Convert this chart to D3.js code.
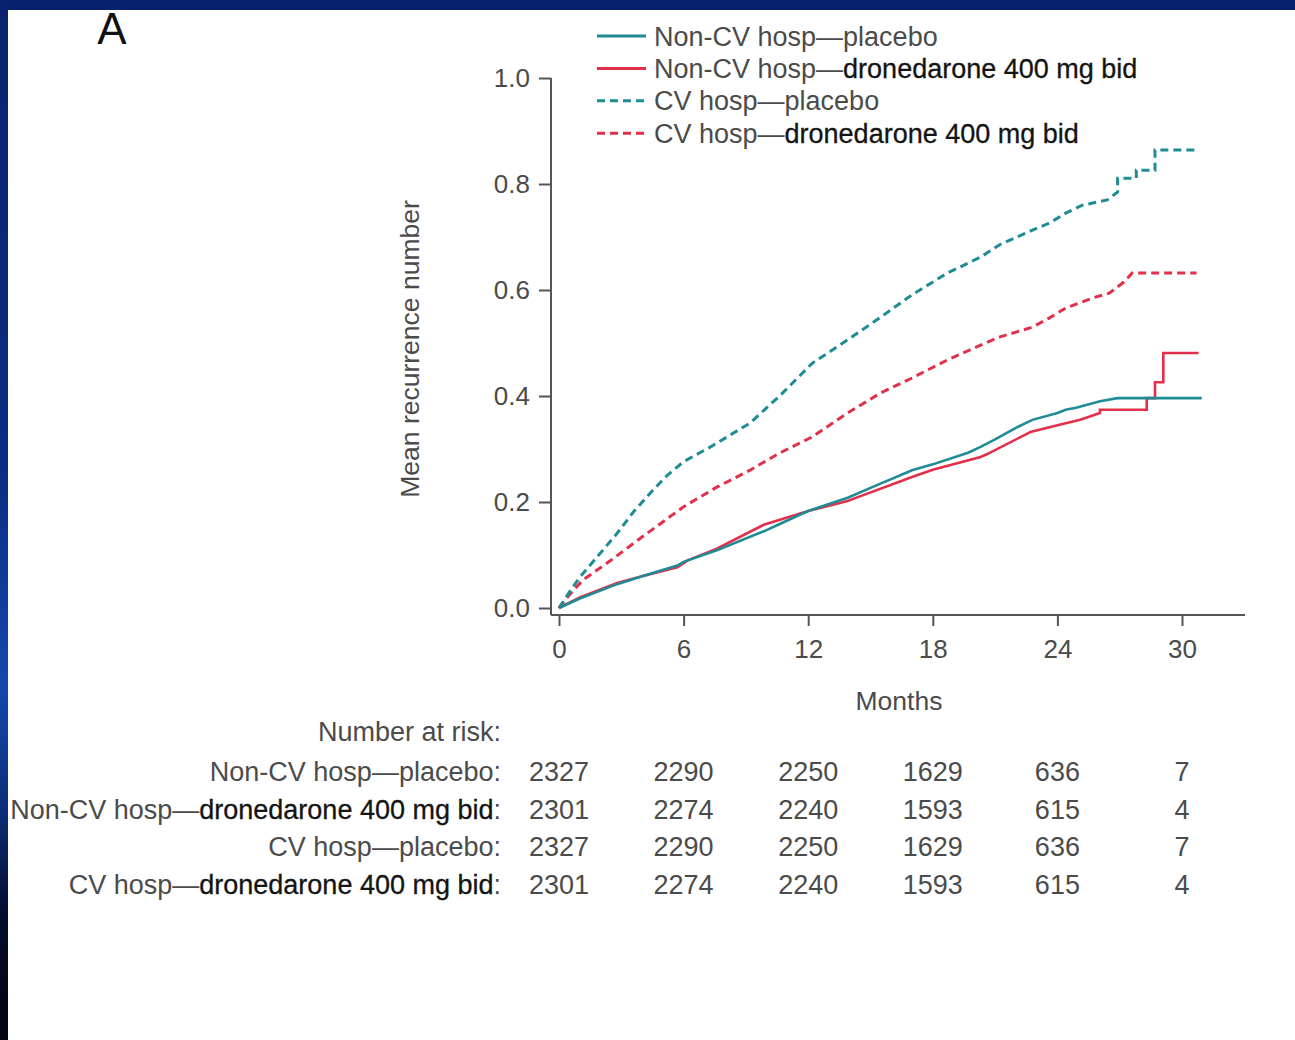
<!DOCTYPE html>
<html>
<head>
<meta charset="utf-8">
<script src="https://cdn.jsdelivr.net/npm/d3@7"></script>
<style>
  html, body { margin: 0; padding: 0; background: #071f6a; }
  svg { display: block; font-family: "Liberation Sans", Arial, sans-serif; }
</style>
</head>
<body>
<svg id="chart" width="1295" height="1040"></svg>
<script>
// months, mean recurrence number
const nonCvPlacebo = [
  [0, 0], [1, 0.018], [2.8, 0.045], [4, 0.06], [5.7, 0.08], [6, 0.087], [7.6, 0.109],
  [10, 0.147], [10.6, 0.158], [11.6, 0.176], [12, 0.183], [13.9, 0.208], [15.2, 0.23],
  [17, 0.26], [18, 0.271], [19.7, 0.293], [20.3, 0.304], [21, 0.318], [22, 0.34],
  [22.8, 0.355], [24, 0.368], [24.4, 0.374], [24.9, 0.378], [26.05, 0.39], [26.9, 0.396],
  [30.95, 0.396]
];
const nonCvDrone = [
  [0, 0], [1, 0.02], [2.8, 0.047], [4, 0.06], [5.7, 0.077], [6.2, 0.09], [7.6, 0.112],
  [9.86, 0.157], [12, 0.183], [13.9, 0.202], [14.1, 0.205], [17, 0.247], [18, 0.261],
  [20.3, 0.285], [20.6, 0.29], [22.5, 0.328], [22.7, 0.332], [24, 0.345], [25.1, 0.355],
  [26.05, 0.368], [26.05, 0.374], [28.3, 0.374], [28.3, 0.396], [28.7, 0.396],
  [28.7, 0.426], [29.1, 0.426], [29.1, 0.481], [30.8, 0.481]
];
const cvPlacebo = [
  [0, 0], [0.5, 0.03], [1, 0.058], [2, 0.104], [2.8, 0.141], [3.6, 0.182], [4.4, 0.217],
  [5.2, 0.25], [6, 0.276], [7.3, 0.304], [9.2, 0.349], [10.7, 0.403], [12.2, 0.462],
  [13.9, 0.506], [15.5, 0.549], [17, 0.591], [18.7, 0.632], [20.3, 0.662], [21.2, 0.685],
  [22.8, 0.713], [23.6, 0.726], [24.4, 0.745], [25.2, 0.76], [26.4, 0.77], [26.9, 0.785],
  [26.9, 0.811], [27.8, 0.811], [27.8, 0.826], [28.7, 0.826], [28.7, 0.864], [30.7, 0.864]
];
const cvDrone = [
  [0, 0], [0.5, 0.025], [1.16, 0.053], [2.5, 0.09], [4, 0.134], [6, 0.191], [7.6, 0.228],
  [9.2, 0.26], [10.6, 0.292], [12.2, 0.323], [13.9, 0.368], [15.5, 0.406], [17, 0.434],
  [18.7, 0.468], [20.3, 0.496], [21.2, 0.511], [22.8, 0.53], [23.6, 0.547], [24.4, 0.566],
  [25.7, 0.585], [26.5, 0.594], [27.2, 0.615], [27.6, 0.632], [30.7, 0.632]
];

const monthTicks = [0, 6, 12, 18, 24, 30];
const valueTicks = [0, 0.2, 0.4, 0.6, 0.8, 1.0];

const legendNames = [
  ["Non-CV hosp\u2014", "placebo", false],
  ["Non-CV hosp\u2014", "dronedarone 400 mg bid", true],
  ["CV hosp\u2014", "placebo", false],
  ["CV hosp\u2014", "dronedarone 400 mg bid", true]
];
const riskHeader = "Number at risk:";
const riskRows = [
  [2327, 2290, 2250, 1629, 636, 7],
  [2301, 2274, 2240, 1593, 615, 4],
  [2327, 2290, 2250, 1629, 636, 7],
  [2301, 2274, 2240, 1593, 615, 4]
];

const teal = "#1f8b95";
const red = "#e2304a";
const grey = "#4b4b4b";
const dark = "#141414";

const svg = d3.select("#chart");

// background frame
const defs = svg.append("defs");
const grad = defs.append("linearGradient").attr("id", "edge")
  .attr("x1", 0).attr("y1", 0).attr("x2", 0).attr("y2", 1);
[[0, "#0a236e"], [0.45, "#0b2c82"], [0.66, "#1448ad"], [0.78, "#0b2d78"],
 [0.88, "#040d2c"], [1, "#02050f"]].forEach(s =>
  grad.append("stop").attr("offset", s[0]).attr("stop-color", s[1]));

svg.append("rect").attr("width", 1295).attr("height", 1040).attr("fill", "#06206d");
svg.append("rect").attr("x", 0).attr("y", 0).attr("width", 8).attr("height", 1040)
  .attr("fill", "url(#edge)");
svg.append("rect").attr("x", 8).attr("y", 10).attr("width", 1287).attr("height", 1030)
  .attr("fill", "#fff");

// scales
const x = d3.scaleLinear().domain([0, 30]).range([559, 1182]);
const y = d3.scaleLinear().domain([0, 1]).range([608, 78]);

const g = svg.append("g");

// axis lines
g.append("line").attr("x1", 551).attr("x2", 551).attr("y1", y(1)).attr("y2", 615)
  .attr("stroke", "#555").attr("stroke-width", 2);
g.append("line").attr("x1", 551).attr("x2", 1245).attr("y1", 615).attr("y2", 615)
  .attr("stroke", "#555").attr("stroke-width", 2);

const yAxis = g.append("g").attr("transform", "translate(551,0)")
  .call(d3.axisLeft(y).tickValues(valueTicks).tickFormat(d3.format(".1f"))
    .tickSize(12).tickPadding(9));
const xAxis = g.append("g").attr("transform", "translate(0,615)")
  .call(d3.axisBottom(x).tickValues(monthTicks).tickSize(11).tickPadding(14));

[yAxis, xAxis].forEach(a => {
  a.select(".domain").remove();
  a.selectAll(".tick line").attr("stroke", "#555").attr("stroke-width", 2);
  a.selectAll(".tick text").attr("fill", grey).style("font-size", "26px")
    .style("font-family", "'Liberation Sans', Arial, sans-serif");
});

// axis titles
g.append("text").attr("x", 899).attr("y", 710).attr("text-anchor", "middle")
  .attr("fill", grey).style("font-size", "26.5px").text("Months");
g.append("text").attr("transform", "translate(419,349) rotate(-90)")
  .attr("text-anchor", "middle").attr("fill", grey).style("font-size", "26.5px")
  .text("Mean recurrence number");

// curves
const line = d3.line().x(d => x(d[0])).y(d => y(d[1]));
const series = [
  { data: cvDrone, color: red, dash: "8,5", w: 3 },
  { data: cvPlacebo, color: teal, dash: "8,5", w: 3 },
  { data: nonCvDrone, color: red, dash: null, w: 2.6 },
  { data: nonCvPlacebo, color: teal, dash: null, w: 2.6 }
];
series.forEach(s => {
  g.append("path").datum(s.data).attr("d", line)
    .attr("fill", "none").attr("stroke", s.color).attr("stroke-width", s.w)
    .attr("stroke-dasharray", s.dash).attr("stroke-linejoin", "miter");
});

// legend
const legendStyle = [
  { color: teal, dash: null }, { color: red, dash: null },
  { color: teal, dash: "8,5" }, { color: red, dash: "8,5" }
];
const leg = svg.append("g");
legendNames.forEach((n, i) => {
  const cy = 36 + i * 32.4;
  leg.append("line").attr("x1", 597).attr("x2", 646).attr("y1", cy).attr("y2", cy)
    .attr("stroke", legendStyle[i].color).attr("stroke-width", 3)
    .attr("stroke-dasharray", legendStyle[i].dash);
  const t = leg.append("text").attr("x", 654).attr("y", cy + 9.5)
    .style("font-size", "27px").attr("fill", grey);
  t.append("tspan").text(n[0]);
  const b = t.append("tspan").text(n[1]);
  if (n[2]) b.attr("fill", dark).attr("stroke", dark).attr("stroke-width", 0.3);
});

// panel letter
svg.append("text").attr("x", 112).attr("y", 44).attr("text-anchor", "middle")
  .attr("fill", "#111").style("font-size", "44px").text("A");

// number at risk table
const risk = svg.append("g").style("font-size", "27px");
risk.append("text").attr("x", 501).attr("y", 731 + 9.5).attr("text-anchor", "end")
  .attr("fill", grey).text(riskHeader);
const rowY = [771, 809, 846, 884];
riskRows.forEach((row, i) => {
  const n = legendNames[i];
  const t = risk.append("text").attr("x", 501).attr("y", rowY[i] + 9.5)
    .attr("text-anchor", "end").attr("fill", grey);
  t.append("tspan").text(n[0]);
  const b = t.append("tspan").text(n[1]);
  if (n[2]) b.attr("fill", dark).attr("stroke", dark).attr("stroke-width", 0.3);
  t.append("tspan").text(":");
  row.forEach((v, j) => {
    risk.append("text").attr("x", x(monthTicks[j])).attr("y", rowY[i] + 9.5)
      .attr("text-anchor", "middle").attr("fill", grey).text(v);
  });
});
</script>
</body>
</html>
